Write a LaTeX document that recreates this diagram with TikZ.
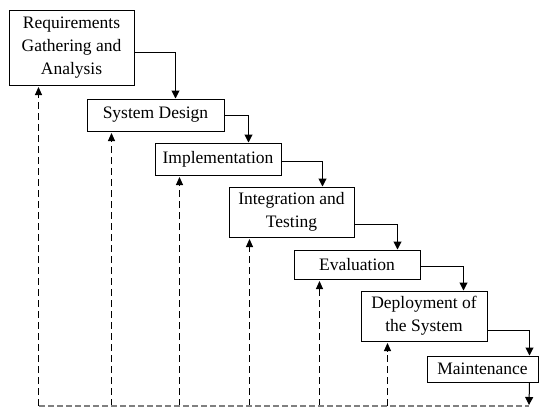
\documentclass[tikz,border=0pt]{standalone}
\usepackage{fontspec}
\setmainfont{Liberation Serif}
\usetikzlibrary{arrows.meta,calc}
\begin{document}
\begin{tikzpicture}[x=1pt,y=-1pt,
  box/.style={draw=black,line width=1pt,align=center,inner sep=0pt,
    font=\fontsize{17.5}{23}\selectfont},
  arr/.style={draw=black,line width=1pt,-{Triangle[length=8pt,width=8pt]}},
  dasharr/.style={draw=black,line width=1pt,dash pattern=on 7pt off 4pt,
    -{Triangle[length=8pt,width=7pt]},shorten >=1.5pt},
  baseline/.style={draw=gray,line width=1.8pt,dash pattern=on 6pt off 3pt}]
\useasboundingbox (0,0) rectangle (549,408);
\node[box,minimum width=125pt,minimum height=75pt] (b1) at (71.5,47.5) {Requirements\\Gathering and\\Analysis};
\node[box,minimum width=137pt,minimum height=32pt] (b2) at (155.5,115) {System Design};
\node[box,minimum width=126pt,minimum height=32pt] (b3) at (218,159) {Implementation};
\node[box,minimum width=125pt,minimum height=50pt] (b4) at (291.5,212) {Integration and\\Testing};
\node[box,minimum width=126pt,minimum height=29pt] (b5) at (357,264.5) {Evaluation};
\node[box,minimum width=126pt,minimum height=50pt] (b6) at (424,316) {Deployment of\\the System};
\node[box,minimum width=111pt,minimum height=26pt] (b7) at (482.5,369) {Maintenance};
\coordinate (bl) at (39,406);
\coordinate (br) at (529,406);
\coordinate (f1) at ($(b1.south west)+(30,0)$);
\coordinate (f2) at ($(b2.south west)+(25,0)$);
\coordinate (f3) at ($(b3.south west)+(25,0)$);
\coordinate (f4) at ($(b4.south west)+(21,0)$);
\coordinate (f5) at ($(b5.south west)+(26,0)$);
\coordinate (f6) at ($(b6.south west)+(27,0)$);
% forward arrows
\draw[arr] ($(b1.east)+(0,4.5)$) -| ($(b2.north east)+(-49,0)$);
\draw[arr] (b2.east) -| ($(b3.north east)+(-33,0)$);
\draw[arr] ($(b3.east)+(0,2)$) -| ($(b4.north east)+(-32,0)$);
\draw[arr] ($(b4.east)+(0,12)$) -| ($(b5.north east)+(-23,0)$);
\draw[arr] ($(b5.east)+(0,1.5)$) -| ($(b6.north east)+(-24,0)$);
\draw[arr] ($(b6.east)+(0,14)$) -| ($(b7.north east)+(-9,0)$);
\draw[arr] ($(b7.south east)+(-9,0)$) -- ($(br)+(0,-1)$);
% feedback arrows
\draw[dasharr] (f1 |- bl) -- (f1);
\draw[dasharr] (f2 |- bl) -- (f2);
\draw[dasharr] (f3 |- bl) -- (f3);
\draw[dasharr] (f4 |- bl) -- (f4);
\draw[dasharr] (f5 |- bl) -- (f5);
\draw[dasharr] (f6 |- bl) -- (f6);
\draw[baseline] (bl) -- (br);
\end{tikzpicture}
\end{document}
